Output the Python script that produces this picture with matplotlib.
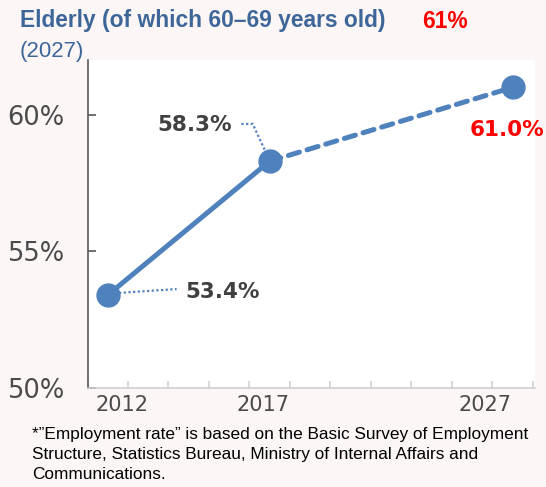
import matplotlib
matplotlib.use("Agg")
import matplotlib.pyplot as plt
from matplotlib.transforms import blended_transform_factory

# data
years = ["2012", "2017", "2027"]
slots = [0, 4, 10]            # category slot on an 11-slot axis
rate = [53.4, 58.3, 61.0]     # employment rate, %
yticks = [50, 55, 60]

BLUE = "#4F81BD"
TITLE_BLUE = "#3D6699"
GRAY = "#404040"
RED = "#FF0000"
BG = "#FDF6F6"

plt.rcParams["font.family"] = "DejaVu Sans"

fig = plt.figure(figsize=(5.46, 4.87), dpi=100, facecolor=BG)
ax = fig.add_axes([87.5 / 546, 99 / 487, 447.5 / 546, 328 / 487])
ax.set_facecolor("white")

x = [s + 0.5 for s in slots]
ax.plot(x[:2], rate[:2], color=BLUE, lw=3.6, solid_capstyle="round", zorder=3)
ax.plot(x[1:], rate[1:], color=BLUE, lw=3.6, dashes=(2.3, 1.6),
        dash_capstyle="round", zorder=3)
ax.plot(x, rate, "o", color=BLUE, ms=16.5, zorder=4)

ax.set_xlim(0, 11.05)
ax.set_ylim(50, 62)

# spines
for s in ("top", "right"):
    ax.spines[s].set_visible(False)
ax.spines["left"].set_color("#595959")
ax.spines["left"].set_linewidth(1.2)
ax.spines["bottom"].set_color("#D0D0D0")
ax.spines["bottom"].set_linewidth(1.2)

ax.set_yticks(yticks)
ax.set_yticklabels([f"{v}%" for v in yticks])
ax.tick_params(axis="y", direction="in", length=6, width=1.2, color="#595959",
               labelsize=18.5, labelcolor="#4A4A4A", pad=16.5)
ax.set_xticks(range(0, 12))
ax.set_xticklabels([])
ax.tick_params(axis="x", direction="in", length=5, width=1.2, color="#D0D0D0")

# year labels under the axis
tr = blended_transform_factory(ax.transData, ax.transAxes)
label_x = [0.85, 4.33, 10.48]
label_ha = ["center", "center", "right"]
for lx, ha, yr in zip(label_x, label_ha, years):
    ax.text(lx, -0.022, yr, transform=tr, ha=ha, va="top", fontsize=15,
            color="#4A4A4A")

# dotted leaders from points to value labels
dot = (0, (1, 1.1))
ax.plot([x[0] + 0.28, x[0] + 1.7], [rate[0] + 0.08, rate[0] + 0.22],
        color=BLUE, lw=1.6, ls=dot, zorder=2)
ax.plot([x[1] - 0.7, x[1] - 0.42, x[1] - 0.12], [59.66, 59.66, 58.7],
        color=BLUE, lw=1.6, ls=dot, zorder=2)

ax.text(223, 487 - 292, f"{rate[0]}%", transform=None, ha="center",
        va="center", fontsize=15.5, fontweight="bold", color=GRAY)
ax.text(195, 487 - 125, f"{rate[1]}%", transform=None, ha="center",
        va="center", fontsize=15.5, fontweight="bold", color=GRAY)
ax.text(507, 487 - 130, f"{rate[2]:.1f}%", transform=None, ha="center",
        va="center", fontsize=15.5, fontweight="bold", color=RED)

# title
fig.text(20 / 546, 1 - 21 / 487, "Elderly (of which 60\u201369 years old)",
         family="Liberation Sans", fontweight="bold", fontsize=16.4,
         color=TITLE_BLUE, va="center", ha="left")
fig.text(422 / 546, 1 - 21 / 487, "61%", family="Liberation Sans",
         fontweight="bold", fontsize=16.4, color=RED, va="center", ha="left")
fig.text(20 / 546, 1 - 51 / 487, "(2027)", family="Liberation Sans",
         fontsize=16, color=TITLE_BLUE, va="center", ha="left")

# footnote
fig.text(32 / 546, 1 - 427 / 487,
         "*\u201dEmployment rate\u201d is based on the Basic Survey of Employment\n"
         "Structure, Statistics Bureau, Ministry of Internal Affairs and\n"
         "Communications.",
         family="Liberation Sans", fontsize=12.4, color="black", va="top",
         ha="left", linespacing=1.42)

fig.savefig("out.png", dpi=100, facecolor=BG)
